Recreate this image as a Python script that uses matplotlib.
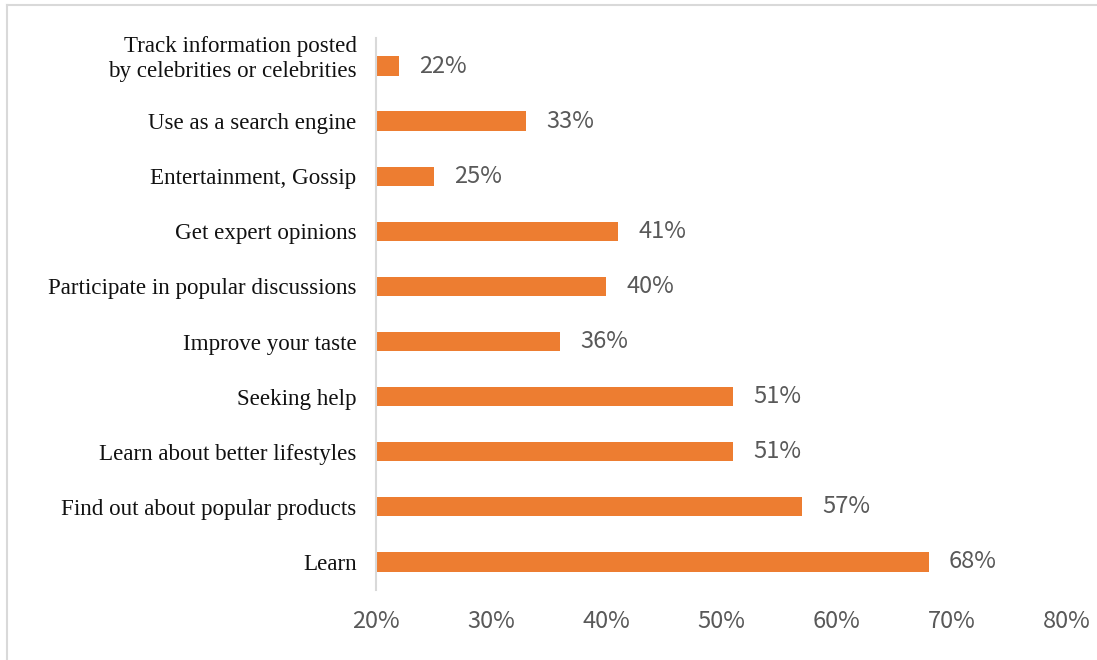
import matplotlib.pyplot as plt
import matplotlib as mpl
from matplotlib.lines import Line2D
from matplotlib.transforms import ScaledTranslation

mpl.rcParams['font.family'] = ['Liberation Serif', 'DejaVu Serif']

# 数据（从下到上）
categories = [
    'Learn',
    'Find out about popular products',
    'Learn about better lifestyles',
    'Seeking help',
    'Improve your taste',
    'Participate in popular discussions',
    'Get expert opinions',
    'Entertainment, Gossip',
    'Use as a search engine',
    'Track information posted\nby celebrities or celebrities',
]
values = [68, 57, 51, 51, 36, 40, 41, 25, 33, 22]
x_ticks = [20, 30, 40, 50, 60, 70, 80]

BAR_COLOR = '#ED7D31'
GREY_TEXT = '#595959'
LINE_GREY = '#d9d9d9'
NUM_FONT = ['Noto Sans CJK SC', 'DejaVu Sans']

fig = plt.figure(figsize=(10.97, 6.6), dpi=100)
ax = fig.add_axes([0.3428, 0.1068, 0.9727 - 0.3428, 0.9417 - 0.1068])

y = list(range(len(categories)))
ax.barh(y, [v - 20 for v in values], left=20, height=0.35, color=BAR_COLOR)

for yi, v in zip(y, values):
    ax.annotate(f'{v}%', xy=(v, yi), xytext=(14.5, 0), textcoords='offset points',
                ha='left', va='center', fontsize=17, color=GREY_TEXT,
                family=NUM_FONT, fontweight='light')

ax.set_xlim(20, 80)
ax.set_ylim(-0.5, len(categories) - 0.5)
ax.set_xticks(x_ticks)
ax.set_xticklabels([f'{t}%' for t in x_ticks], family=NUM_FONT,
                   fontsize=17, color=GREY_TEXT, fontweight='light')
ax.set_yticks(y)
ax.set_yticklabels(categories, fontsize=16.6, color='#111111', linespacing=1.3)
ax.tick_params(axis='x', length=0, pad=15)
ax.tick_params(axis='y', length=0, pad=14)

# 两行标签上移，使第二行与柱子对齐
top_label = ax.get_yticklabels()[-1]
top_label.set_transform(top_label.get_transform() +
                        ScaledTranslation(0, 12 / 100, fig.dpi_scale_trans))

for s in ['top', 'right', 'bottom']:
    ax.spines[s].set_visible(False)
ax.spines['left'].set_color(LINE_GREY)
ax.spines['left'].set_linewidth(1.5)

# 外框（上、左）
fig.add_artist(Line2D([7 / 1097, 1], [1 - 5 / 660, 1 - 5 / 660],
                      transform=fig.transFigure, color=LINE_GREY, lw=1.5))
fig.add_artist(Line2D([7 / 1097, 7 / 1097], [0, 1 - 5 / 660],
                      transform=fig.transFigure, color=LINE_GREY, lw=1.5))

plt.savefig('out.png', dpi=100)
plt.close()
